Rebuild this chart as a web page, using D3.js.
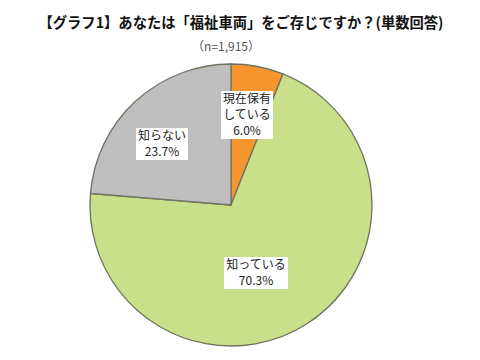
<!DOCTYPE html>
<html><head><meta charset="utf-8">
<script src="https://cdn.jsdelivr.net/npm/d3@7"></script>
<style>body{margin:0;background:#fff}</style>
</head><body>
<svg id="c" width="480" height="360"></svg>
<script>
const categories = ["現在保有している", "知っている", "知らない"];
const labelLines = [["現在保有", "している"], ["知っている"], ["知らない"]];
const values = [6.0, 70.3, 23.7];
const colors = ["#F7962F", "#C9DF8A", "#BEBEBE"];
const title = "【グラフ1】あなたは「福祉車両」をご存じですか？(単数回答)";
const subtitle = "（n=1,915）";

const svg = d3.select("#c");
const cx = 231, cy = 205, r = 141;
svg.append("text").attr("x", 241).attr("y", 28).attr("text-anchor", "middle")
  .attr("font-family", "Noto Sans CJK JP").attr("font-weight", "bold").attr("font-size", 14.5)
  .attr("textLength", 405).attr("lengthAdjust", "spacingAndGlyphs")
  .attr("fill", "#111").text(title);
svg.append("text").attr("x", 226).attr("y", 51).attr("text-anchor", "middle")
  .attr("font-family", "Noto Sans CJK JP").attr("font-size", 12).attr("fill", "#555").text(subtitle);

const pie = d3.pie().sort(null).value(d => d)(values);
const arc = d3.arc().innerRadius(0).outerRadius(r);
const g = svg.append("g").attr("transform", `translate(${cx},${cy})`);
g.selectAll("path").data(pie).join("path").attr("d", arc)
  .attr("fill", (d, i) => colors[i]).attr("stroke", "#6f735f").attr("stroke-width", 1.3);

const labelPos = [[16, -90], [25, 68], [-69, -61]];
const lh = 16;
pie.forEach((d, i) => {
  const lines = labelLines[i].concat([d3.format(".1f")(values[i]) + "%"]);
  const lg = g.append("g").attr("transform", `translate(${labelPos[i][0]},${labelPos[i][1]})`);
  const h = lines.length * lh;
  const w = d3.max(lines, s => /%/.test(s) ? 30 : s.length * 12) + 4;
  lg.append("rect").attr("x", -w / 2).attr("y", -h / 2).attr("width", w).attr("height", h).attr("fill", "#fff");
  lines.forEach((s, k) => {
    lg.append("text").attr("x", 0).attr("y", -h / 2 + lh * k + lh / 2).attr("dy", "0.35em")
      .attr("text-anchor", "middle").attr("font-family", "Noto Sans CJK JP").attr("font-size", 12)
      .attr("fill", "#222").text(s);
  });
});
</script>
</body></html>
